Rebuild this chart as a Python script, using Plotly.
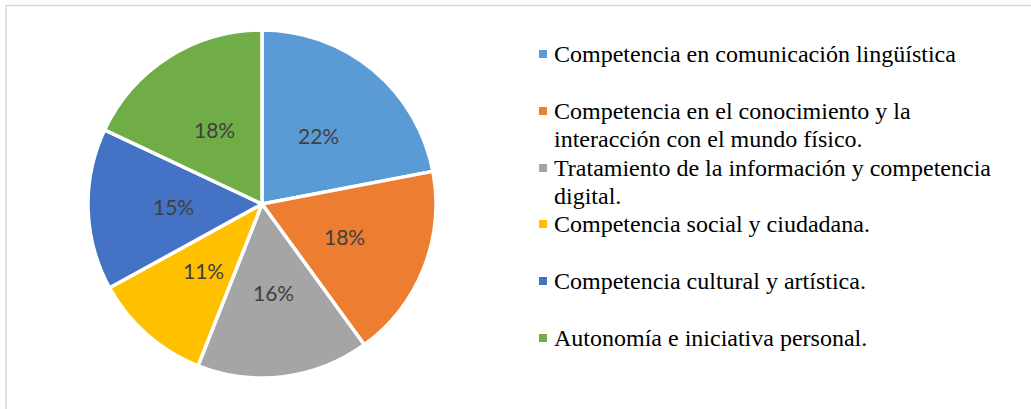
import math
import textwrap

import plotly.graph_objects as go

W, H = 1031, 409

labels = [
    "Competencia en comunicación lingüística",
    "Competencia en el conocimiento y la interacción con el mundo físico.",
    "Tratamiento de la información y competencia digital.",
    "Competencia social y ciudadana.",
    "Competencia cultural y artística.",
    "Autonomía e iniciativa personal.",
]
values = [22, 18, 16, 11, 15, 18]
colors = ["#5B9BD5", "#ED7D31", "#A5A5A5", "#FFC000", "#4472C4", "#70AD47"]

# pie geometry in pixels
CX, CY, R = 262, 204, 174


def px_x(x):
    return x / W


def px_y(y):
    return 1 - y / H


fig = go.Figure(
    go.Pie(
        labels=labels,
        values=values,
        sort=False,
        direction="clockwise",
        rotation=0,
        marker=dict(colors=colors, line=dict(color="white", width=3.5)),
        textinfo="none",
        domain=dict(x=[px_x(CX - R), px_x(CX + R)], y=[px_y(CY + R), px_y(CY - R)]),
        showlegend=False,
        hoverinfo="label+percent",
    )
)

annotations = []

# percent labels, Excel style: about half way out along each slice's middle
total = sum(values)
acc = 0
for v in values:
    mid = (acc + v / 2) / total * 2 * math.pi
    acc += v
    lx = CX + 0.51 * R * math.sin(mid)
    ly = CY - 0.51 * R * math.cos(mid)
    annotations.append(dict(
        xref="paper", yref="paper", x=px_x(lx), y=px_y(ly),
        xanchor="center", yanchor="middle", showarrow=False,
        text=f"{round(v / total * 100)}%",
        font=dict(family="Lato", size=21, color="#404040"),
    ))

# border like the original frame (top and left only visible)
shapes = [
    dict(type="line", xref="paper", yref="paper", x0=px_x(6), x1=1, y0=px_y(5.5), y1=px_y(5.5),
         line=dict(color="#D9D9D9", width=1.5)),
    dict(type="line", xref="paper", yref="paper", x0=px_x(6), x1=px_x(6), y0=px_y(5.5), y1=0,
         line=dict(color="#D9D9D9", width=1.5)),
]

# legend drawn by hand so the entries sit on evenly spaced slots like the original
slot_y = [54, 111, 168, 224, 281, 338]
for lab, col, sy in zip(labels, colors, slot_y):
    shapes.append(dict(type="rect", xref="paper", yref="paper",
                       x0=px_x(539), x1=px_x(547), y0=px_y(sy + 4), y1=px_y(sy - 4),
                       fillcolor=col, line=dict(width=0)))
    for i, line in enumerate(textwrap.wrap(lab, 45)):
        annotations.append(dict(
            xref="paper", yref="paper", x=px_x(552), y=px_y(sy + 28 * i),
            xanchor="left", yanchor="middle", align="left", showarrow=False,
            text=line,
            font=dict(family="Liberation Serif", size=24, color="#000000"),
        ))

fig.update_layout(
    width=W, height=H,
    margin=dict(l=0, r=0, t=0, b=0),
    paper_bgcolor="white",
    plot_bgcolor="white",
    shapes=shapes,
    annotations=annotations,
)

fig.write_html(
    "out.html",
    config={"displayModeBar": False},
    post_script="document.body.style.margin='0';",
)
